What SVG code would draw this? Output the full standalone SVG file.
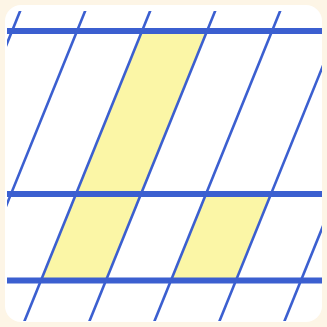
<svg xmlns="http://www.w3.org/2000/svg" width="327" height="327" viewBox="0 0 327 327">
  <style>
    .slant { stroke: #3b5fd0; stroke-width: 2.6; fill: none; }
    .hline { stroke: #3b5fd0; stroke-width: 6; fill: none; }
    .fill { fill: #fbf6a6; stroke: none; }
  </style>
  <defs>
    <clipPath id="clip">
      <rect x="7" y="11" width="315" height="310" rx="12"/>
    </clipPath>
  </defs>
  <rect x="0" y="0" width="327" height="327" fill="#fdf5e6"/>
  <rect x="5" y="5" width="317" height="317" rx="16" fill="#ffffff"/>
  <g id="regions">
    <polygon class="fill" points="142,31 207,31 106,280.5 41,280.5"/>
    <polygon class="fill" points="206,194 271,194 236,280.5 171,280.5"/>
  </g>
  <g id="connectors" clip-path="url(#clip)">
    <line class="slant" x1="24.6" y1="0" x2="-107.9" y2="327"/>
    <line class="slant" x1="89.6" y1="0" x2="-42.9" y2="327"/>
    <line class="slant" x1="154.6" y1="0" x2="22.1" y2="327"/>
    <line class="slant" x1="219.6" y1="0" x2="87.1" y2="327"/>
    <line class="slant" x1="284.6" y1="0" x2="152.1" y2="327"/>
    <line class="slant" x1="349.6" y1="0" x2="217.1" y2="327"/>
    <line class="slant" x1="414.6" y1="0" x2="282.1" y2="327"/>
    <line class="hline" x1="7" y1="31" x2="322" y2="31"/>
    <line class="hline" x1="7" y1="194" x2="322" y2="194"/>
    <line class="hline" x1="7" y1="280.5" x2="322" y2="280.5"/>
  </g>
</svg>
